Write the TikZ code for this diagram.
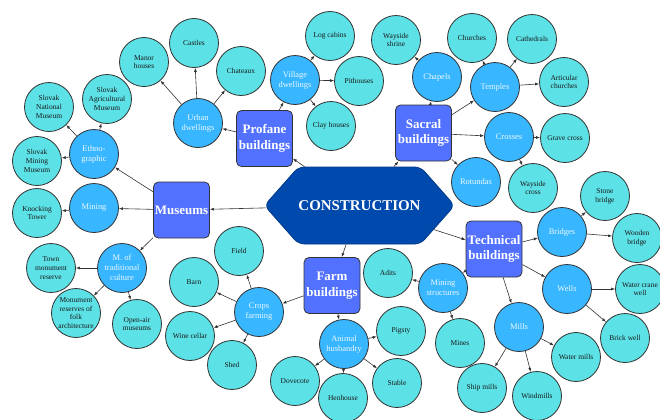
\documentclass[tikz,border=0pt]{standalone}
\usepackage{fontspec}
\setmainfont{Liberation Serif}
\usetikzlibrary{shapes.symbols,arrows.meta}
\definecolor{leafc}{HTML}{5CE1E6}
\definecolor{midc}{HTML}{38B6FF}
\definecolor{catc}{HTML}{5271FF}
\definecolor{hexc}{HTML}{004AAD}
\definecolor{edgec}{HTML}{333333}
\begin{document}
\begin{tikzpicture}[x=1bp,y=-1bp,
 leaf/.style={circle,draw=edgec,line width=0.8bp,fill=leafc,minimum size=49bp,inner sep=0pt,align=center,font=\fontsize{7.5}{8.8}\selectfont,text=black!90},
 mid/.style={circle,draw=edgec,line width=0.8bp,fill=midc,minimum size=49bp,inner sep=0pt,align=center,font=\fontsize{8.5}{10}\selectfont,text=white!90!midc},
 cat/.style={rectangle,rounded corners=5bp,draw=edgec,line width=0.8bp,fill=catc,minimum width=56bp,minimum height=56bp,inner sep=0pt,align=center,font=\fontsize{13}{15.5}\selectfont\bfseries,text=white},
 hexnode/.style={signal,signal to=west and east,signal pointer angle=97,fill=hexc,draw=hexc!80!black,line width=0.8bp,rounded corners=6bp,minimum width=187bp,minimum height=77bp,inner sep=0pt,font=\fontsize{15}{18}\selectfont\bfseries,text=white},
 link/.style={-{Latex[length=4bp,width=3bp]},draw=edgec,line width=0.6bp},
]
\useasboundingbox (0,0) rectangle (660,419);
\clip (0,0) rectangle (660,419);
\fill[white] (0,0) rectangle (660,419);

% centre
\node[hexnode] (C) at (359.5,205.5) {CONSTRUCTION};

% categories
\node[cat] (P) at (264.5,138.5) {Profane\\buildings};
\node[cat] (S) at (423.5,133) {Sacral\\buildings};
\node[cat] (M) at (181.5,210) {Museums};
\node[cat] (F) at (332,285.5) {Farm\\buildings};
\node[cat] (T) at (494,249) {Technical\\buildings};

% middle level
\node[mid] (urban) at (198,123) {Urban\\dwellings};
\node[mid] (village) at (295,80) {Village\\dwellings};
\node[mid] (chapels) at (437,77) {Chapels};
\node[mid] (temples) at (495,87) {Temples};
\node[mid] (crosses) at (509,137) {Crosses};
\node[mid] (rotundas) at (476,182) {Rotundas};
\node[mid] (bridges) at (562,232) {Bridges};
\node[mid] (wells) at (567,289) {Wells};
\node[mid] (mills) at (519,327) {Mills};
\node[mid] (minstr) at (443,288) {Mining\\structures};
\node[mid] (animal) at (344,344) {Animal\\husbandry};
\node[mid] (crops) at (259,312) {Crops\\farming};
\node[mid] (ethno) at (94,154) {Ethno-\\graphic};
\node[mid] (mining) at (94,208) {Mining};
\node[mid] (mtrad) at (122,268) {M. of\\traditional\\culture};

% leaves
\node[leaf] (manor) at (144,62) {Manor\\houses};
\node[leaf] (castles) at (194,43) {Castles};
\node[leaf] (chateaux) at (241,71) {Chateaux};
\node[leaf] (logcab) at (330,36) {Log cabins};
\node[leaf] (pith) at (359,81) {Pithouses};
\node[leaf] (clay) at (331,126) {Clay houses};
\node[leaf] (shrine) at (396,40) {Wayside\\shrine};
\node[leaf] (churches) at (472,38) {Churches};
\node[leaf] (cathedrals) at (532,39) {Cathedrals};
\node[leaf] (artic) at (564,82) {Articular\\churches};
\node[leaf] (grave) at (565,138) {Grave cross};
\node[leaf] (waycross) at (533,188) {Wayside\\cross};
\node[leaf] (stone) at (605,196) {Stone\\bridge};
\node[leaf] (wooden) at (637,238) {Wooden\\bridge};
\node[leaf] (crane) at (640,289) {Water crane\\well};
\node[leaf] (brick) at (625,338) {Brick well};
\node[leaf] (watermills) at (576,357) {Water mills};
\node[leaf] (ship) at (482,388) {Ship mills};
\node[leaf] (wind) at (537,396) {Windmills};
\node[leaf] (adits) at (388,273) {Adits};
\node[leaf] (mines) at (460,343) {Mines};
\node[leaf] (pigsty) at (401,331) {Pigsty};
\node[leaf] (stable) at (397,383) {Stable};
\node[leaf] (henhouse) at (343,398) {Henhouse};
\node[leaf] (dovecote) at (295,381) {Dovecote};
\node[leaf] (field) at (239,251) {Field};
\node[leaf] (barn) at (194,282) {Barn};
\node[leaf] (wine) at (190,336) {Wine cellar};
\node[leaf] (shed) at (232,365) {Shed};
\node[leaf] (sam) at (107,99) {Slovak\\Agricultural\\Museum};
\node[leaf] (snm) at (49,107) {Slovak\\National\\Museum};
\node[leaf] (smm) at (37,161) {Slovak\\Mining\\Museum};
\node[leaf] (knock) at (37,213) {Knocking\\Tower};
\node[leaf] (town) at (51,268) {Town\\monument\\reserve};
\node[leaf] (folk) at (76,313) {Monument\\reserves of\\folk\\architecture};
\node[leaf] (openair) at (137,324) {Open-air\\museums};

% connectors
\foreach \a/\b in {C/P,C/S,C/M,C/F,C/T,
  P/urban,P/village,
  S/chapels,S/temples,S/crosses,S/rotundas,
  T/bridges,T/wells,T/mills,T/minstr,
  F/crops,F/animal,
  M/ethno,M/mining,M/mtrad,
  urban/manor,urban/castles,urban/chateaux,
  village/logcab,village/pith,village/clay,
  chapels/shrine,
  temples/churches,temples/cathedrals,temples/artic,
  crosses/grave,crosses/waycross,
  bridges/stone,bridges/wooden,
  wells/crane,wells/brick,
  mills/watermills,mills/ship,mills/wind,
  minstr/adits,minstr/mines,
  animal/pigsty,animal/stable,animal/henhouse,animal/dovecote,
  crops/field,crops/barn,crops/wine,crops/shed,
  ethno/sam,ethno/snm,ethno/smm,
  mining/knock,
  mtrad/town,mtrad/folk,mtrad/openair}
  \draw[link] (\a) -- (\b);
\end{tikzpicture}
\end{document}
